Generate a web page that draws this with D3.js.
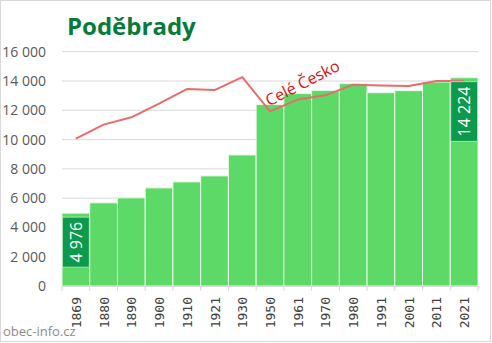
<!DOCTYPE html>
<html><head><meta charset="utf-8">
<script src="https://cdn.jsdelivr.net/npm/d3@7"></script>
<style>body{margin:0;background:#fff}svg{display:block}</style>
</head><body>
<svg id="c" width="492" height="343"></svg>
<script>
const years = ["1869","1880","1890","1900","1910","1921","1930","1950","1961","1970","1980","1991","2001","2011","2021"];
const population = [4976,5680,6020,6700,7110,7520,8950,12390,13140,13360,13820,13200,13340,13930,14224];
const czechia = [10070,11020,11520,12450,13450,13380,14270,11930,12730,13020,13750,13700,13660,14000,14000];
const yTicks = [0,2000,4000,6000,8000,10000,12000,14000,16000];
const title = "Poděbrady";
const lineLabel = "Celé Česko";
const source = "obec-info.cz";

const svg = d3.select("#c");
const font = "'Open Sans', 'DejaVu Sans', sans-serif";
const mono = "'DejaVu Sans Mono', monospace";
const L = 62, R = 478, T = 51.7, B = 286;
const x = d3.scaleBand().domain(years).range([L, R]).padding(0);
const y = d3.scaleLinear().domain([0,16000]).range([B, T]);
const fmt = v => d3.format(",")(v).replace(/,/g, " ");

svg.append("rect").attr("x",0.5).attr("y",0.5).attr("width",490).attr("height",341)
  .attr("fill","#fff").attr("stroke","#d9d9d9");

// grid
svg.append("g").selectAll("line").data(yTicks.filter(d=>d>0)).join("line")
  .attr("x1",L).attr("x2",R).attr("y1",d=>y(d)).attr("y2",d=>y(d))
  .attr("stroke","#d9d9d9").attr("stroke-width",1);

// y labels
svg.append("g").selectAll("text").data(yTicks).join("text")
  .attr("x",46).attr("y",d=>y(d)+5).attr("text-anchor","end")
  .attr("font-family",font).attr("font-size",14).attr("fill","#595959").text(d=>fmt(d));

// bars
svg.append("g").selectAll("rect").data(population).join("rect")
  .attr("x",(d,i)=>x(years[i])).attr("width",x.bandwidth())
  .attr("y",d=>y(d)).attr("height",d=>B-y(d))
  .attr("fill","#5cd966").attr("stroke","#e8f8ea").attr("stroke-width",1);

// x axis
const xa = svg.append("g").attr("transform",`translate(0,${B})`)
  .call(d3.axisBottom(x).tickSize(0).tickFormat(""));
xa.select(".domain").attr("stroke","#d9d9d9");
svg.append("g").selectAll("line").data(years.concat(["end"])).join("line")
  .attr("x1",(d,i)=>L+i*x.bandwidth()).attr("x2",(d,i)=>L+i*x.bandwidth())
  .attr("y1",B).attr("y2",B+5).attr("stroke","#d9d9d9");
svg.append("g").selectAll("text").data(years).join("text")
  .attr("transform",d=>`translate(${x(d)+x.bandwidth()/2+5},297) rotate(-90)`)
  .attr("text-anchor","end").attr("font-family",mono).attr("font-size",13)
  .attr("fill","#404040").text(d=>d);

// line
const line = d3.line().x((d,i)=>x(years[i])+x.bandwidth()/2).y(d=>y(d));
svg.append("path").datum(czechia).attr("d",line).attr("fill","none")
  .attr("stroke","#ea6b6b").attr("stroke-width",2).attr("stroke-linejoin","round");

// line label
svg.append("text").attr("transform","translate(305,88) rotate(-27)")
  .attr("text-anchor","middle").attr("font-family",font).attr("font-size",16)
  .attr("fill","#e01010").text(lineLabel);

// data labels on first and last bar
[0, years.length-1].forEach(i=>{
  const v = population[i];
  const t = fmt(v);
  const h = t.length*9.6 + 2;
  const bx = x(years[i]) + 0.5, bw = x.bandwidth() - 1;
  const by = y(v) + 4;
  svg.append("rect").attr("x",bx).attr("y",by).attr("width",bw).attr("height",h)
    .attr("fill","#0c9b4c").attr("stroke","#bfe9c6").attr("stroke-width",0.8);
  svg.append("text").attr("transform",`translate(${bx+bw/2+6},${by+h/2}) rotate(-90)`)
    .attr("text-anchor","middle").attr("font-family",font).attr("font-size",16)
    .attr("fill","#fff").text(t);
});

// title
svg.append("text").attr("x",67).attr("y",35).attr("font-family",font)
  .attr("font-weight","bold").attr("font-size",24).attr("fill","#087a3c").text(title);

// source
svg.append("text").attr("x",3).attr("y",336).attr("font-family",font)
  .attr("font-size",13).attr("fill","#8c8c8c").text(source);
</script>
</body></html>
